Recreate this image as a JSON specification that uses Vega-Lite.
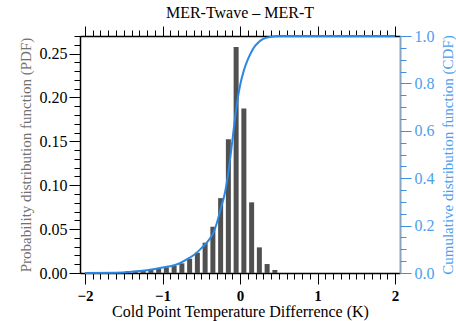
{
  "$schema": "https://vega.github.io/schema/vega-lite/v6.json",
  "width": 320,
  "height": 237,
  "autosize": {"type": "none"},
  "padding": {"left": 80, "top": 36, "right": 56, "bottom": 48},
  "background": "white",
  "view": {"stroke": null},
  "config": {"font": "Liberation Serif", "axis": {"labelFont": "Liberation Serif", "titleFont": "Liberation Serif"}},
  "title": {"text": "MER-Twave – MER-T", "font": "Liberation Serif", "fontSize": 16, "fontWeight": "normal", "color": "black", "anchor": "middle", "frame": "group", "offset": 5},
  "datasets": {
    "pdf": [
      {"x": -1.55, "pdf": 0.001}, {"x": -1.45, "pdf": 0.002}, {"x": -1.35, "pdf": 0.0025},
      {"x": -1.25, "pdf": 0.003}, {"x": -1.15, "pdf": 0.004}, {"x": -1.05, "pdf": 0.005},
      {"x": -0.95, "pdf": 0.0065}, {"x": -0.85, "pdf": 0.008}, {"x": -0.75, "pdf": 0.011},
      {"x": -0.65, "pdf": 0.0163}, {"x": -0.55, "pdf": 0.0231}, {"x": -0.45, "pdf": 0.0345},
      {"x": -0.35, "pdf": 0.0527}, {"x": -0.25, "pdf": 0.0853}, {"x": -0.15, "pdf": 0.1525},
      {"x": -0.05, "pdf": 0.2575}, {"x": 0.05, "pdf": 0.1874}, {"x": 0.15, "pdf": 0.0805},
      {"x": 0.25, "pdf": 0.0292}, {"x": 0.35, "pdf": 0.0102}, {"x": 0.45, "pdf": 0.0034}
    ],
    "cdf": [
      {"x": -2.0, "cdf": 0.0}, {"x": -1.6, "cdf": 0.001}, {"x": -1.4, "cdf": 0.005},
      {"x": -1.2, "cdf": 0.012}, {"x": -1.0, "cdf": 0.023}, {"x": -0.8, "cdf": 0.038},
      {"x": -0.7, "cdf": 0.055}, {"x": -0.6, "cdf": 0.075}, {"x": -0.5, "cdf": 0.104},
      {"x": -0.4, "cdf": 0.14}, {"x": -0.35, "cdf": 0.165}, {"x": -0.3, "cdf": 0.21},
      {"x": -0.25, "cdf": 0.27}, {"x": -0.2, "cdf": 0.33}, {"x": -0.15, "cdf": 0.425},
      {"x": -0.1, "cdf": 0.555}, {"x": -0.05, "cdf": 0.69}, {"x": 0.0, "cdf": 0.79},
      {"x": 0.05, "cdf": 0.855}, {"x": 0.1, "cdf": 0.9}, {"x": 0.15, "cdf": 0.935},
      {"x": 0.2, "cdf": 0.96}, {"x": 0.25, "cdf": 0.977}, {"x": 0.3, "cdf": 0.988},
      {"x": 0.4, "cdf": 0.997}, {"x": 0.5, "cdf": 1.0}, {"x": 1.0, "cdf": 1.0},
      {"x": 2.0, "cdf": 1.0}
    ]
  },
  "layer": [
    {
      "data": {"name": "pdf"},
      "mark": {"type": "bar", "size": 5, "color": "#505050"},
      "encoding": {
        "x": {"field": "x", "type": "quantitative", "scale": {"domain": [-2, 2], "nice": false, "zero": false},
          "axis": {"orient": "bottom", "values": [-2, -1, 0, 1, 2], "format": "d", "tickSize": 11, "tickColor": "black", "domainColor": "black", "domainWidth": 1.5,
            "labelFont": "Liberation Serif", "labelFontSize": 15, "labelFontWeight": "bold", "labelColor": "black", "labelPadding": 4, "grid": false,
            "title": "Cold Point Temperature Differrence (K)", "titleFont": "Liberation Serif", "titleFontSize": 16, "titleFontWeight": "normal", "titleColor": "black", "titlePadding": 0}},
        "y": {"field": "pdf", "type": "quantitative", "scale": {"domain": [0, 0.27], "nice": false},
          "axis": {"orient": "left", "values": [0, 0.05, 0.1, 0.15, 0.2, 0.25], "format": ".2f", "tickSize": 11, "tickColor": "black", "domainColor": "black", "domainWidth": 1.5,
            "labelFont": "Liberation Serif", "labelFontSize": 16, "labelColor": "black", "labelPadding": 2, "grid": false,
            "title": "Probability distribution function (PDF)", "titleFont": "Liberation Serif", "titleFontSize": 15, "titleFontWeight": "normal", "titleColor": "#707070", "titlePadding": 6}}
      }
    },
    {
      "data": {"name": "pdf"},
      "mark": {"type": "point", "opacity": 0},
      "encoding": {
        "x": {"field": "x", "type": "quantitative", "scale": {"domain": [-2, 2], "nice": false, "zero": false},
          "axis": {"orient": "bottom", "values": [-2,-1.9,-1.8,-1.7,-1.6,-1.5,-1.4,-1.3,-1.2,-1.1,-1,-0.9,-0.8,-0.7,-0.6,-0.5,-0.4,-0.3,-0.2,-0.1,0,0.1,0.2,0.3,0.4,0.5,0.6,0.7,0.8,0.9,1,1.1,1.2,1.3,1.4,1.5,1.6,1.7,1.8,1.9,2],
            "tickSize": 6, "tickColor": "black", "domain": false, "labels": false, "grid": false, "title": null}},
        "y": {"field": "pdf", "type": "quantitative", "scale": {"domain": [0, 0.27], "nice": false},
          "axis": {"orient": "left", "values": [0,0.01,0.02,0.03,0.04,0.05,0.06,0.07,0.08,0.09,0.1,0.11,0.12,0.13,0.14,0.15,0.16,0.17,0.18,0.19,0.2,0.21,0.22,0.23,0.24,0.25,0.26,0.27],
            "tickSize": 6, "tickColor": "black", "domain": false, "labels": false, "grid": false, "title": null}}
      }
    },
    {
      "data": {"name": "cdf"},
      "mark": {"type": "line", "color": "#2a88e4", "strokeWidth": 2, "interpolate": "monotone"},
      "encoding": {
        "x": {"field": "x", "type": "quantitative", "scale": {"domain": [-2, 2], "nice": false, "zero": false},
          "axis": {"orient": "top", "values": [-2, -1, 0, 1, 2], "tickSize": 10, "tickColor": "black", "domainColor": "black", "domainWidth": 1.5, "labels": false, "grid": false, "title": null}},
        "y": {"field": "cdf", "type": "quantitative", "scale": {"domain": [0, 1], "nice": false},
          "axis": {"orient": "right", "values": [0, 0.2, 0.4, 0.6, 0.8, 1], "format": ".1f", "tickSize": 11, "tickColor": "#3d8fe0", "domainColor": "#8aa3c0", "domainWidth": 2,
            "labelFont": "Liberation Serif", "labelFontSize": 16, "labelColor": "#4aa0ee", "labelPadding": 3, "grid": false,
            "title": "Cumulative distribution function (CDF)", "titleFont": "Liberation Serif", "titleFontSize": 15, "titleFontWeight": "normal", "titleColor": "#4aa0ee", "titlePadding": 6, "titleAngle": -90, "titleBaseline": "top"}}
      }
    },
    {
      "data": {"name": "cdf"},
      "mark": {"type": "point", "opacity": 0},
      "encoding": {
        "x": {"field": "x", "type": "quantitative", "scale": {"domain": [-2, 2], "nice": false, "zero": false},
          "axis": {"orient": "top", "values": [-2,-1.9,-1.8,-1.7,-1.6,-1.5,-1.4,-1.3,-1.2,-1.1,-1,-0.9,-0.8,-0.7,-0.6,-0.5,-0.4,-0.3,-0.2,-0.1,0,0.1,0.2,0.3,0.4,0.5,0.6,0.7,0.8,0.9,1,1.1,1.2,1.3,1.4,1.5,1.6,1.7,1.8,1.9,2],
            "tickSize": 6, "tickColor": "black", "domain": false, "labels": false, "grid": false, "title": null}},
        "y": {"field": "cdf", "type": "quantitative", "scale": {"domain": [0, 1], "nice": false},
          "axis": {"orient": "right", "values": [0,0.05,0.1,0.15,0.2,0.25,0.3,0.35,0.4,0.45,0.5,0.55,0.6,0.65,0.7,0.75,0.8,0.85,0.9,0.95,1],
            "tickSize": 6, "tickColor": "#3d8fe0", "domain": false, "labels": false, "grid": false, "title": null}}
      }
    }
  ],
  "resolve": {"scale": {"y": "independent"}, "axis": {"x": "independent", "y": "independent"}}
}
